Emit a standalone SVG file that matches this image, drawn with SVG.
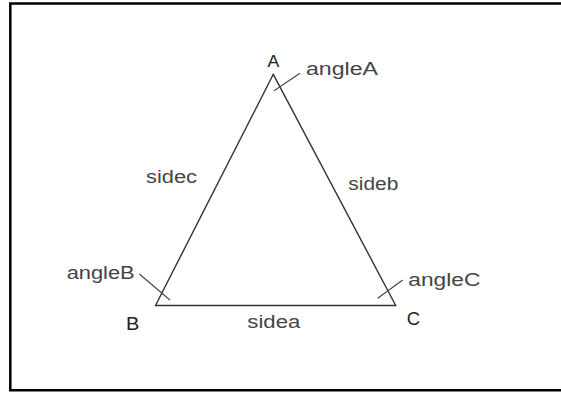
<svg xmlns="http://www.w3.org/2000/svg" width="561" height="394" viewBox="0 0 561 394">
  <style>
    .lbl { font-family: "Liberation Sans", Arial, sans-serif; font-size: 17.5px; fill: #444; }
    .vtx { font-family: "Liberation Sans", Arial, sans-serif; font-size: 18.5px; fill: #222; }
    .side { fill: none; stroke: #333; stroke-width: 1.4; stroke-linecap: round; }
    .tick { fill: none; stroke: #444; stroke-width: 1.1; }
  </style>
  <rect x="0" y="0" width="561" height="394" fill="#fff"/>
  <path d="M561,3.5 L10.3,3.5 L10.3,390.2 L561,390.2" fill="none" stroke="#000" stroke-width="2.5"/>
  <g id="connectors">
    <path class="side" d="M273.3,74.3 L155.5,305.5"/>
    <path class="side" d="M273.3,74.3 L395.7,305.5"/>
    <path class="side" d="M155.5,305.5 L395.7,305.5" stroke="#555" stroke-width="2"/>
    <path class="tick" d="M274,90.7 L300,73.3"/>
    <path class="tick" d="M139.3,274 L170,300"/>
    <path class="tick" d="M377.7,298.3 L402.7,280"/>
  </g>
  <g id="A"><text class="vtx" x="267.5" y="67" textLength="11.8" lengthAdjust="spacingAndGlyphs" style="font-size:16.5px">A</text></g>
  <g id="B"><text class="vtx" x="126" y="329.5" textLength="13.3" lengthAdjust="spacingAndGlyphs">B</text></g>
  <g id="C"><text class="vtx" x="406.7" y="324.5" textLength="13.3" lengthAdjust="spacingAndGlyphs">C</text></g>
  <g id="angleA"><text class="lbl" x="306" y="75" textLength="72" lengthAdjust="spacingAndGlyphs">angleA</text></g>
  <g id="angleB"><text class="lbl" x="66.7" y="279.3" textLength="68" lengthAdjust="spacingAndGlyphs">angleB</text></g>
  <g id="angleC"><text class="lbl" x="408.3" y="286" textLength="72" lengthAdjust="spacingAndGlyphs">angleC</text></g>
  <g id="sidec"><text class="lbl" x="146" y="183.3" textLength="51" lengthAdjust="spacingAndGlyphs">sidec</text></g>
  <g id="sideb"><text class="lbl" x="348.3" y="190" textLength="50" lengthAdjust="spacingAndGlyphs">sideb</text></g>
  <g id="sidea"><text class="lbl" x="247.3" y="328.3" textLength="53" lengthAdjust="spacingAndGlyphs">sidea</text></g>
</svg>
